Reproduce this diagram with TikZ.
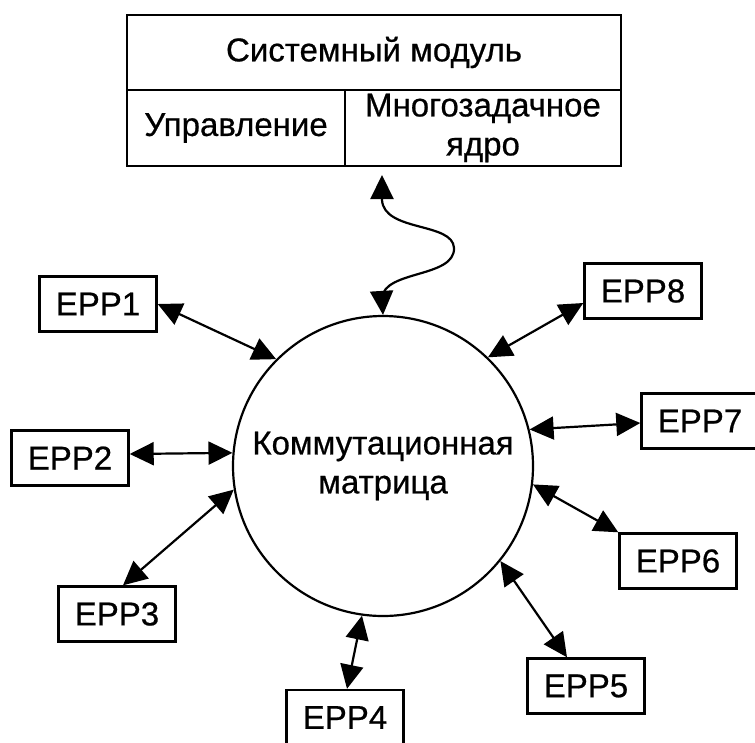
\documentclass[tikz,border=0pt]{standalone}
\usepackage{fontspec}
\setmainfont[FakeBold=0.6]{Liberation Sans}
\usetikzlibrary{arrows.meta,calc}
\begin{document}
\begin{tikzpicture}[x=1pt,y=-1pt,
  every node/.style={font=\fontsize{33}{39}\selectfont, line width=2.4pt, inner sep=0pt},
  cell/.style={draw, align=center},
  epp/.style={draw, minimum width=117pt, minimum height=55pt},
  tip/.tip={Triangle[length=24pt,width=23pt]},
  link/.style={line width=2.2pt, tip-tip},
  wave/.style={line width=2.2pt, tip-tip}]
\useasboundingbox (0,0) rectangle (755,742);

% system module block
\node[cell, minimum width=494pt, minimum height=75pt] (title) at (374,52.5) {Системный модуль};
\node[cell, minimum width=218pt, minimum height=76pt] (ctrl) at (236,128) {Управление};
\node[cell, minimum width=276pt, minimum height=76pt] (kern) at (483,128) {Многозадачное\\ядро};

% switching matrix
\node[draw, line width=2.2pt, circle, minimum size=300pt, align=center] (mx) at (383,466) {Коммутационная\\матрица};

% peripheral boxes
\node[epp] (e1) at (98,304) {EPP1};
\node[epp] (e2) at (70,458) {EPP2};
\node[epp] (e3) at (117,614) {EPP3};
\node[epp] (e4) at (345,717.5) {EPP4};
\node[epp] (e5) at (586,686) {EPP5};
\node[epp] (e6) at (678,561) {EPP6};
\node[epp] (e7) at (700,421) {EPP7};
\node[epp] (e8) at (643,291) {EPP8};

% links between the boxes and the matrix
\draw[link] (e1.east) -- (mx.135.5);
\draw[link] ($(e2.east)+(0,-4)$) -- (mx.175);
\draw[link] ($(e3.north)+(6,0)$) -- (mx.189);
\draw[link] ($(e4.north)+(2,0)$) -- (mx.262.5);
\draw[link] ($(e5.north)+(-19,0)$) -- (mx.321);
\draw[link] (e6.north west) -- (mx.353.6);
\draw[link] ($(e7.west)+(0,2)$) -- (mx.14);
\draw[link] ($(e8.west)+(0,12)$) -- (mx.46.4);

% wavy link to the system module
\coordinate (wtop) at (382,175);
\draw[wave] (mx.90.5) -- (382,298) .. controls (384,270) and (455,278) .. (454,248)
  .. controls (453,222) and (384,232) .. (382,200) -- (wtop);
\end{tikzpicture}
\end{document}
